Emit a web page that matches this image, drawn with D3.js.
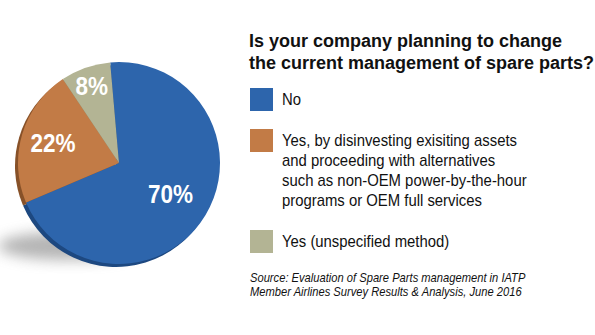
<!DOCTYPE html>
<meta charset="utf-8">
<style>
body { margin: 0; background: #fff; }
svg { display: block; }
.title { font: bold 18px "Liberation Sans", Arial, sans-serif; fill: #111; }
.legend { font: 16px "Liberation Sans", Arial, sans-serif; fill: #111; }
.source { font: italic 13px "Liberation Sans", Arial, sans-serif; fill: #111; }
.pct { font: bold 25px "Liberation Sans", Arial, sans-serif; fill: #fff; }
</style>
<body>
<svg id="chart" width="595" height="335"></svg>
</body>
<script src="https://d3js.org/d3.v7.min.js"></script>
<script>
// Survey answers
var answers = ["No",
  "Yes, by disinvesting exisiting assets|and proceeding with alternatives|such as non-OEM power-by-the-hour|programs or OEM full services",
  "Yes (unspecified method)"];
var shares = [70, 22, 8];
var faceColors = ["#2d65ac", "#c27b46", "#b3b494"];
var rimColors = ["#1d4880", "#875128", "#85856a"];
var titleLines = ["Is your company planning to change", "the current management of spare parts?"];
var sourceLines = ["Source: Evaluation of Spare Parts management in IATP",
  "Member Airlines Survey Results & Analysis, June 2016"];

var svg = d3.select("#chart");
var cx = 119, cy = 163, radius = 101;

// condensed look for the narrow typeface
function squeeze(k) { return "scale(" + k + ",1)"; }

// soft drop shadow under the disc
var defs = svg.append("defs");
defs.append("filter").attr("id", "blur")
  .attr("x", "-50%").attr("y", "-50%").attr("width", "200%").attr("height", "200%")
  .append("feGaussianBlur").attr("stdDeviation", 7);

svg.append("ellipse")
  .attr("cx", 70).attr("cy", 246).attr("rx", 72).attr("ry", 14)
  .attr("fill", "#777").attr("opacity", 0.55)
  .attr("filter", "url(#blur)");

var pie = d3.pie().sort(null)
  .startAngle(-5 * Math.PI / 180)
  .endAngle(355 * Math.PI / 180);
var arcs = pie(shares);
var arc = d3.arc().innerRadius(0).outerRadius(radius);

// disc thickness: darker copy nudged down-left
svg.append("g")
  .attr("transform", "translate(" + (cx - 3) + "," + (cy + 3) + ")")
  .selectAll("path").data(arcs).enter().append("path")
  .attr("d", arc)
  .attr("fill", function(d, i) { return rimColors[i]; });

var face = svg.append("g")
  .attr("transform", "translate(" + cx + "," + cy + ")");

face.selectAll("path").data(arcs).enter().append("path")
  .attr("d", arc)
  .attr("fill", function(d, i) { return faceColors[i]; });

// small slices get their labels pushed further out
var labelRadius = [60, 69, 82];
face.selectAll("text").data(arcs).enter().append("text")
  .attr("class", "pct")
  .attr("text-anchor", "middle")
  .attr("dy", "0.36em")
  .attr("transform", function(d, i) {
    var a = (d.startAngle + d.endAngle) / 2;
    return "translate(" + (Math.sin(a) * labelRadius[i]) + "," + (-Math.cos(a) * labelRadius[i]) + ")" + squeeze(0.9);
  })
  .text(function(d) { return d.data + "%"; });

// title
svg.append("text").attr("class", "title")
  .selectAll("tspan").data(titleLines).enter().append("tspan")
  .attr("x", 249).attr("y", function(d, i) { return 47 + i * 22; })
  .text(function(d) { return d; });

// legend
var legendY = [88, 129, 230];
var legend = svg.selectAll("g.item").data(answers).enter().append("g")
  .attr("class", "item")
  .attr("transform", function(d, i) { return "translate(250," + legendY[i] + ")"; });

legend.append("rect")
  .attr("width", 23).attr("height", 23)
  .attr("fill", function(d, i) { return faceColors[i]; });

legend.append("text").attr("class", "legend")
  .attr("transform", "translate(32,0)" + squeeze(0.93))
  .selectAll("tspan").data(function(d) { return d.split("|"); }).enter().append("tspan")
  .attr("x", 0).attr("y", function(d, i) { return 17.5 + i * 19.8; })
  .text(function(d) { return d; });

// source note
svg.append("text").attr("class", "source")
  .attr("transform", "translate(250,0)" + squeeze(0.86))
  .selectAll("tspan").data(sourceLines).enter().append("tspan")
  .attr("x", 0).attr("y", function(d, i) { return 282 + i * 14.5; })
  .text(function(d) { return d; });
</script>
